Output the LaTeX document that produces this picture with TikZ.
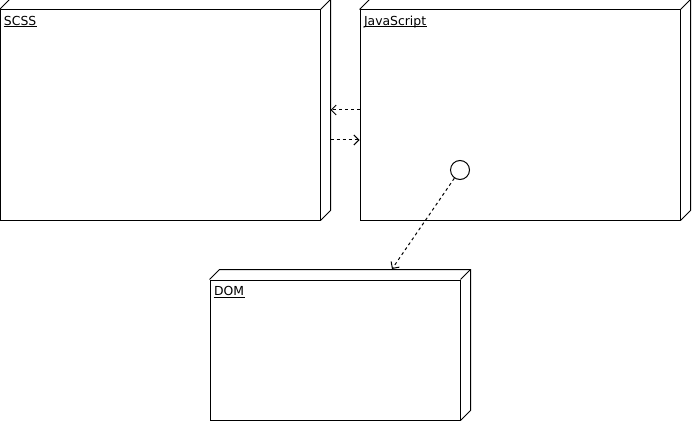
\documentclass[tikz,border=0pt]{standalone}
\usepackage{fontspec}
\setmainfont{DejaVu Sans}
\usetikzlibrary{arrows.meta}

% front face of a node box, its depth, and its underlined name
\newcommand{\umlbox}[5]{%
  \node[umlbox, minimum width=#3, minimum height=#4] (#1) at (#2) {};
  \draw (#1.north west) -- ++(10,-10) -- ([shift={(10,-10)}]#1.north east)
        -- ([shift={(10,-10)}]#1.south east) -- (#1.south east);
  \draw (#1.north east) -- ++(10,-10);
  \node[umllabel] (#1-lbl) at ([shift={(4,16)}]#1.north west) {#5};
  \draw[line width=0.8pt] ([yshift=-1.4pt]#1-lbl.base west) -- ([yshift=-1.4pt]#1-lbl.base east);
}

\begin{document}
\begin{tikzpicture}[x=1pt,y=-1pt,line width=1pt,
    umlbox/.style={draw, rectangle, inner sep=0pt},
    umllabel/.style={anchor=base west, inner sep=0pt, font=\fontsize{12.4}{14}\selectfont},
    dep/.style={dash pattern=on 3pt off 3pt, -{Straight Barb[length=5pt,width=10pt]}}]
  \useasboundingbox (0,0) rectangle (692,422);

  \umlbox{scss}{160,115}{320}{210}{SCSS}
  \umlbox{js}{520,115}{320}{210}{JavaScript}
  \umlbox{dom}{335,350}{250}{140}{DOM}

  % interface of the script
  \node[draw, circle, inner sep=0pt, minimum size=19] (iface) at (460,170) {};
  \coordinate (domin) at (392,269);

  % dependencies
  \draw[dep] ([yshift=5pt]js.west) -- ([shift={(10,-5)}]scss.east);
  \draw[dep] ([shift={(10,25)}]scss.east) -- ([yshift=-25pt]js.west);
  \draw[dep] (iface) -- (domin);
\end{tikzpicture}
\end{document}
